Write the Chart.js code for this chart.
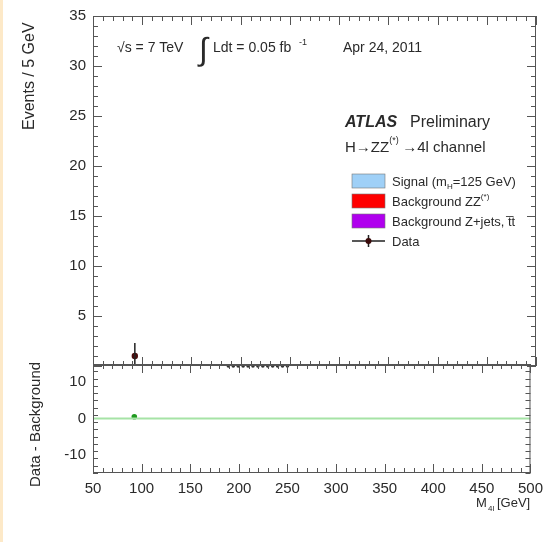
<!DOCTYPE html>
<html lang="en">
<head>
    <meta charset="UTF-8">
    <title>ATLAS H to ZZ to 4l</title>
    <script src="https://cdn.jsdelivr.net/npm/chart.js"></script>
    <style>
        body {
            margin: 0;
            padding: 0;
            background: #fff;
            width: 550px;
            height: 542px;
            position: relative;
            overflow: hidden;
        }
        #edge {
            position: absolute; left: 0; top: 0; width: 3px; height: 542px;
            background: #fde9c8;
        }
        #top { position: absolute; left: 0; top: 0; }
        #bottom { position: absolute; left: 0; top: 348px; }
    </style>
</head>
<body>
    <div id="edge"></div>
    <canvas id="top" width="550" height="382"></canvas>
    <canvas id="bottom" width="550" height="194"></canvas>

    <script>
        // data (bin centres in GeV, 5 GeV bins)
        var dataMass = [92.5];
        var dataEvents = [1];
        var dataErrLow = [1];
        var dataErrHigh = [1.3];
        // bins with zero observed events drawn on the axis
        var zeroMass = [187.5, 192.5, 197.5, 202.5, 207.5, 212.5, 217.5, 222.5, 227.5, 232.5, 237.5, 242.5, 247.5];
        var zeroEvents = [0, 0, 0, 0, 0, 0, 0, 0, 0, 0, 0, 0, 0];
        // data - background
        var diffMass = [92.5];
        var diffValues = [0.5];

        var xTicks = [50, 100, 150, 200, 250, 300, 350, 400, 450, 500];
        var topTicks = [5, 10, 15, 20, 25, 30, 35];
        var bottomTicks = [-10, 0, 10];

        var FONT = 'Liberation Sans, Arial, sans-serif';
        var INK = '#2a2a2a';

        function pts(xs, ys) {
            return xs.map(function (x, i) { return { x: x, y: ys[i] }; });
        }

        // frame with ROOT style inside ticks
        function frameTicks(chart, yMajor, yMinor, drawTopAxis) {
            var ctx = chart.ctx, a = chart.chartArea;
            var xs = chart.scales.x, ys = chart.scales.y;
            ctx.save();
            ctx.strokeStyle = '#555';
            ctx.lineWidth = 1;
            ctx.strokeRect(a.left + 0.5, a.top + 0.5, a.right - a.left - 1, a.bottom - a.top - 1);
            ctx.beginPath();
            for (var v = 50; v <= 500; v += 10) {
                var px = Math.round(xs.getPixelForValue(v)) + 0.5;
                var len = (v % 50 === 0) ? 9 : 5;
                ctx.moveTo(px, a.bottom); ctx.lineTo(px, a.bottom - len);
                if (drawTopAxis) { ctx.moveTo(px, a.top); ctx.lineTo(px, a.top + len); }
            }
            for (var w = ys.min; w <= ys.max + 0.001; w += yMinor) {
                var py = Math.round(ys.getPixelForValue(w)) + 0.5;
                var l2 = (Math.abs(w % yMajor) < 0.001) ? 9 : 5;
                ctx.moveTo(a.left, py); ctx.lineTo(a.left + l2, py);
                ctx.moveTo(a.right, py); ctx.lineTo(a.right - l2, py);
            }
            ctx.stroke();
            ctx.restore();
        }

        function errorBars(chart, xsArr, ysArr, lo, hi, color) {
            var ctx = chart.ctx, xs = chart.scales.x, ys = chart.scales.y;
            ctx.save();
            ctx.strokeStyle = color;
            ctx.lineWidth = 1.5;
            ctx.beginPath();
            xsArr.forEach(function (m, i) {
                var px = xs.getPixelForValue(m);
                ctx.moveTo(px, ys.getPixelForValue(ysArr[i] - lo[i]));
                ctx.lineTo(px, ys.getPixelForValue(ysArr[i] + hi[i]));
            });
            ctx.stroke();
            ctx.restore();
        }

        var topDecor = {
            id: 'topDecor',
            afterDatasetsDraw: function (chart) {
                errorBars(chart, dataMass, dataEvents, dataErrLow, dataErrHigh, '#222');
            },
            afterDraw: function (chart) {
                var ctx = chart.ctx;
                frameTicks(chart, 5, 1, true);
                ctx.save();
                ctx.fillStyle = INK;
                ctx.textBaseline = 'alphabetic';

                // y title
                ctx.save();
                ctx.translate(34, 130);
                ctx.rotate(-Math.PI / 2);
                ctx.font = '16px ' + FONT;
                ctx.textAlign = 'left';
                ctx.fillText('Events / 5 GeV', 0, 0);
                ctx.restore();

                // header line
                ctx.font = '14px ' + FONT;
                ctx.textAlign = 'left';
                ctx.fillText('\u221As = 7 TeV', 117, 52);
                ctx.font = '32px ' + FONT;
                ctx.fillText('\u222B', 199, 60);
                ctx.font = '14px ' + FONT;
                ctx.fillText('Ldt = 0.05 fb', 213, 52);
                ctx.font = '9px ' + FONT;
                ctx.fillText('-1', 299, 45);
                ctx.font = '14px ' + FONT;
                ctx.fillText('Apr 24, 2011', 343, 52);

                // ATLAS label
                ctx.font = 'bold italic 16px ' + FONT;
                ctx.fillText('ATLAS', 345, 127);
                ctx.font = '16px ' + FONT;
                ctx.fillText('Preliminary', 410, 127);
                ctx.font = '15px ' + FONT;
                ctx.fillText('H\u2192ZZ', 345, 152);
                var hw = ctx.measureText('H\u2192ZZ').width;
                ctx.font = '9px ' + FONT;
                ctx.fillText('(*)', 345 + hw, 143);
                ctx.font = '15px ' + FONT;
                ctx.fillText('\u21924l channel', 345 + hw + 13, 152);

                // legend
                var items = [
                    { c: '#9fd0f7', t: 'Signal (m', sub: 'H', rest: '=125 GeV)' },
                    { c: '#ff0000', t: 'Background ZZ', sup: '(*)' },
                    { c: '#b000ee', t: 'Background Z+jets, t\u0305t' }
                ];
                var ly = [181, 201, 221];
                items.forEach(function (it, i) {
                    ctx.fillStyle = it.c;
                    ctx.fillRect(352, ly[i] - 7, 33, 14);
                    ctx.strokeStyle = '#777';
                    ctx.lineWidth = 0.6;
                    ctx.strokeRect(352, ly[i] - 7, 33, 14);
                    ctx.fillStyle = INK;
                    ctx.font = '13px ' + FONT;
                    ctx.fillText(it.t, 392, ly[i] + 5);
                    var w = ctx.measureText(it.t).width;
                    if (it.sub) {
                        ctx.font = '8px ' + FONT;
                        ctx.fillText(it.sub, 392 + w, ly[i] + 8);
                        var w2 = ctx.measureText(it.sub).width;
                        ctx.font = '13px ' + FONT;
                        ctx.fillText(it.rest, 392 + w + w2, ly[i] + 5);
                    }
                    if (it.sup) {
                        ctx.font = '8px ' + FONT;
                        ctx.fillText(it.sup, 392 + w, ly[i] - 2);
                    }
                });
                // data entry
                ctx.strokeStyle = '#222';
                ctx.lineWidth = 1.5;
                ctx.beginPath();
                ctx.moveTo(352, 241); ctx.lineTo(385, 241);
                ctx.moveTo(368.5, 235); ctx.lineTo(368.5, 247);
                ctx.stroke();
                ctx.fillStyle = '#3a0a0a';
                ctx.beginPath(); ctx.arc(368.5, 241, 3, 0, Math.PI * 2); ctx.fill();
                ctx.fillStyle = INK;
                ctx.font = '13px ' + FONT;
                ctx.fillText('Data', 392, 246);
                ctx.restore();
            }
        };

        var topChart = new Chart(document.getElementById('top').getContext('2d'), {
            type: 'scatter',
            data: {
                datasets: [{
                    label: 'Data',
                    data: pts(dataMass, dataEvents),
                    pointRadius: 3.2,
                    pointBackgroundColor: '#4a0c0c',
                    pointBorderWidth: 0,
                    clip: false
                }, {
                    label: 'Data (empty bins)',
                    data: pts(zeroMass, zeroEvents),
                    pointRadius: 1.8,
                    pointBackgroundColor: '#333',
                    pointBorderWidth: 0,
                    clip: false
                }]
            },
            options: {
                responsive: false,
                animation: false,
                layout: { padding: { top: 15, bottom: 5, left: 0, right: 14 } },
                plugins: { legend: { display: false }, tooltip: { enabled: false } },
                scales: {
                    x: { type: 'linear', min: 50, max: 500, display: false },
                    y: {
                        min: 0, max: 35,
                        afterFit: function (s) { s.width = 93; },
                        afterBuildTicks: function (s) { s.ticks = topTicks.map(function (v) { return { value: v }; }); },
                        grid: { display: false, drawTicks: false },
                        border: { display: false },
                        ticks: { padding: 7, color: INK, font: { family: FONT, size: 15 } }
                    }
                }
            },
            plugins: [topDecor]
        });

        var bottomDecor = {
            id: 'bottomDecor',
            afterDraw: function (chart) {
                var ctx = chart.ctx;
                frameTicks(chart, 10, 2, true);
                ctx.save();
                ctx.fillStyle = INK;
                ctx.save();
                ctx.translate(40, 139);
                ctx.rotate(-Math.PI / 2);
                ctx.font = '15px ' + FONT;
                ctx.textAlign = 'left';
                ctx.fillText('Data - Background', 0, 0);
                ctx.restore();
                // x title
                ctx.font = '13px ' + FONT;
                ctx.textAlign = 'left';
                ctx.fillText('M', 476, 159);
                ctx.font = '8px ' + FONT;
                ctx.fillText('4l', 488, 163);
                ctx.font = '13px ' + FONT;
                ctx.fillText('[GeV]', 497, 159);
                ctx.restore();
            }
        };

        var bottomChart = new Chart(document.getElementById('bottom').getContext('2d'), {
            type: 'scatter',
            data: {
                datasets: [{
                    label: 'Zero',
                    type: 'line',
                    data: [{ x: 50, y: 0 }, { x: 500, y: 0 }],
                    borderColor: '#a6e3a6',
                    borderWidth: 2,
                    pointRadius: 0
                }, {
                    label: 'Data - Background',
                    data: pts(diffMass, diffValues),
                    pointRadius: 2.8,
                    pointBackgroundColor: '#1f9a1f',
                    pointBorderWidth: 0
                }]
            },
            options: {
                responsive: false,
                animation: false,
                layout: { padding: { top: 3, bottom: 0, left: 0, right: 14 } },
                plugins: { legend: { display: false }, tooltip: { enabled: false } },
                scales: {
                    x: {
                        type: 'linear', min: 50, max: 500,
                        afterFit: function (s) { s.height = 69; },
                        afterBuildTicks: function (s) { s.ticks = xTicks.map(function (v) { return { value: v }; }); },
                        grid: { display: false, drawTicks: false },
                        border: { display: false },
                        ticks: { padding: 7, maxRotation: 0, autoSkip: false, color: INK, font: { family: FONT, size: 15 } }
                    },
                    y: {
                        min: -15, max: 15,
                        afterFit: function (s) { s.width = 93; },
                        afterBuildTicks: function (s) { s.ticks = bottomTicks.map(function (v) { return { value: v }; }); },
                        grid: { display: false, drawTicks: false },
                        border: { display: false },
                        ticks: { padding: 7, color: INK, font: { family: FONT, size: 15 } }
                    }
                }
            },
            plugins: [bottomDecor]
        });
    </script>
</body>
</html>
